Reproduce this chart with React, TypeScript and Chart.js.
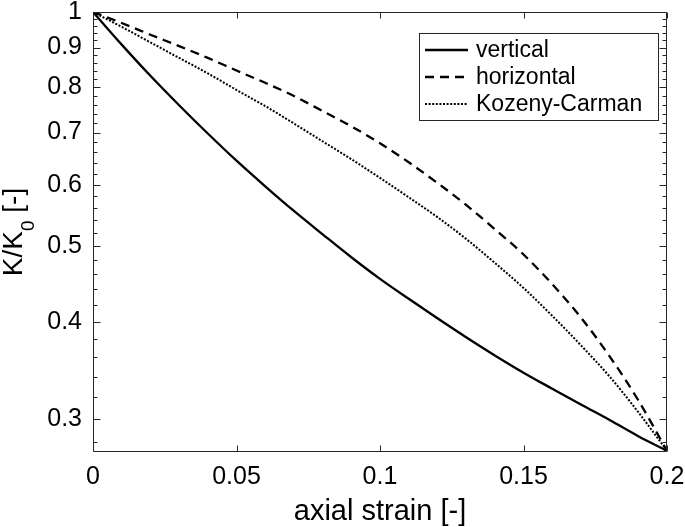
import { useEffect, useRef } from "react";
import { Chart, registerables } from "chart.js";

Chart.register(...registerables);

// ---- data ----
const strain = [0, 0.01, 0.02, 0.03, 0.04, 0.05, 0.06, 0.07, 0.08, 0.09, 0.1, 0.11, 0.12, 0.13, 0.14, 0.15, 0.16, 0.17, 0.18, 0.19, 0.2];
const vertical = [1, 0.908, 0.828, 0.759, 0.698, 0.644, 0.597, 0.555, 0.518, 0.484, 0.454, 0.428, 0.404, 0.382, 0.362, 0.344, 0.328, 0.313, 0.299, 0.285, 0.273];
const horizontal = [1, 0.968, 0.935, 0.904, 0.873, 0.841, 0.811, 0.78, 0.746, 0.713, 0.678, 0.641, 0.603, 0.565, 0.526, 0.488, 0.447, 0.405, 0.361, 0.317, 0.273];
const kozenyCarman = [1, 0.957, 0.914, 0.873, 0.834, 0.794, 0.757, 0.719, 0.682, 0.647, 0.612, 0.578, 0.545, 0.511, 0.476, 0.442, 0.407, 0.373, 0.34, 0.306, 0.273];

const seriesNames = ["vertical", "horizontal", "Kozeny-Carman"];
const xTicks = [0, 0.05, 0.1, 0.15, 0.2];
const yMajorTicks = [0.3, 0.4, 0.5, 0.6, 0.7, 0.8, 0.9, 1];
const yMinorTicks = [0.28, 0.32, 0.34, 0.36, 0.38, 0.42, 0.44, 0.46, 0.48, 0.52, 0.54, 0.56, 0.58, 0.62, 0.64, 0.66, 0.68, 0.72, 0.74, 0.76, 0.78, 0.82, 0.84, 0.86, 0.88, 0.92, 0.94, 0.96, 0.98];
const xMin = 0;
const xMax = 0.2;
const yMin = 0.272;
const yMax = 1;
const xTitle = "axial strain [-]";
const yTitleMain = "K/K";
const yTitleSub = "0";
const yTitleTail = " [-]";

const FONT = "'Liberation Sans', Arial, Helvetica, sans-serif";
const AXIS = "#262626";
const INK = "#000000";

const fmt = (v: number) => String(Number(Number(v).toFixed(3)));

const framePlugin = {
  id: "frame",
  afterDraw(chart: any) {
    const { ctx, chartArea, scales } = chart;
    const { left, right, top, bottom } = chartArea;
    const L = Math.round(left) + 0.5;
    const R = Math.round(right) - 0.5;
    const T = Math.round(top) + 0.5;
    const B = Math.round(bottom) - 0.5;
    ctx.save();
    ctx.strokeStyle = AXIS;
    ctx.lineWidth = 1;
    ctx.beginPath();
    ctx.rect(L, T, R - L, B - T);
    xTicks.forEach((v) => {
      const px = Math.round(scales.x.getPixelForValue(v)) + 0.5;
      ctx.moveTo(px, B);
      ctx.lineTo(px, B - 6);
      ctx.moveTo(px, T);
      ctx.lineTo(px, T + 6);
    });
    const yTick = (v: number, len: number) => {
      const py = Math.round(scales.y.getPixelForValue(v)) + 0.5;
      ctx.moveTo(L, py);
      ctx.lineTo(L + len, py);
      ctx.moveTo(R, py);
      ctx.lineTo(R - len, py);
    };
    yMajorTicks.forEach((v) => yTick(v, 7));
    yMinorTicks.forEach((v) => yTick(v, 4));
    ctx.stroke();
    ctx.restore();
  },
};

const yTitlePlugin = {
  id: "yTitle",
  afterDraw(chart: any) {
    const { ctx, chartArea } = chart;
    const cy = (chartArea.top + chartArea.bottom) / 2;
    const mainFont = `28px ${FONT}`;
    const subFont = `19px ${FONT}`;
    ctx.save();
    ctx.fillStyle = INK;
    ctx.textBaseline = "alphabetic";
    ctx.textAlign = "left";
    ctx.font = mainFont;
    const w1 = ctx.measureText(yTitleMain).width;
    const w3 = ctx.measureText(yTitleTail).width;
    ctx.font = subFont;
    const w2 = ctx.measureText(yTitleSub).width;
    const total = w1 + w2 + w3;
    ctx.translate(22, cy);
    ctx.rotate(-Math.PI / 2);
    const x0 = -total / 2;
    ctx.font = mainFont;
    ctx.fillText(yTitleMain, x0, 0);
    ctx.font = subFont;
    ctx.fillText(yTitleSub, x0 + w1, 12);
    ctx.font = mainFont;
    ctx.fillText(yTitleTail, x0 + w1 + w2, 0);
    ctx.restore();
  },
};

const legendPlugin = {
  id: "boxLegend",
  afterDraw(chart: any) {
    const { ctx } = chart;
    const bx = 419.5;
    const by = 33.5;
    const bw = 239;
    const bh = 87;
    ctx.save();
    ctx.fillStyle = "#ffffff";
    ctx.fillRect(bx, by, bw, bh);
    ctx.strokeStyle = AXIS;
    ctx.lineWidth = 1;
    ctx.strokeRect(bx, by, bw, bh);
    const rows = [50, 77, 104];
    chart.data.datasets.forEach((ds: any, i: number) => {
      const y = rows[i];
      ctx.beginPath();
      ctx.strokeStyle = ds.borderColor;
      ctx.lineWidth = ds.borderWidth;
      ctx.setLineDash(ds.borderDash || []);
      ctx.moveTo(425, y);
      ctx.lineTo(468, y);
      ctx.stroke();
      ctx.setLineDash([]);
      ctx.fillStyle = INK;
      ctx.font = `23px ${FONT}`;
      ctx.textBaseline = "middle";
      ctx.textAlign = "left";
      ctx.fillText(ds.label, 476, y + 1);
    });
    ctx.restore();
  },
};

export default function App() {
  const ref = useRef<HTMLCanvasElement | null>(null);

  useEffect(() => {
    document.body.style.margin = "0";
    if (!ref.current) return;
    const mk = (vals: number[]) => strain.map((x, i) => ({ x, y: vals[i] }));
    const chart = new Chart(ref.current, {
      type: "line",
      data: {
        datasets: [
          {
            label: seriesNames[0],
            data: mk(vertical),
            borderColor: INK,
            borderWidth: 2.3,
            pointRadius: 0,
            cubicInterpolationMode: "monotone",
          },
          {
            label: seriesNames[1],
            data: mk(horizontal),
            borderColor: INK,
            borderWidth: 2.3,
            borderDash: [9, 6],
            pointRadius: 0,
            cubicInterpolationMode: "monotone",
          },
          {
            label: seriesNames[2],
            data: mk(kozenyCarman),
            borderColor: INK,
            borderWidth: 2,
            borderDash: [2, 1.6],
            pointRadius: 0,
            cubicInterpolationMode: "monotone",
          },
        ],
      },
      options: {
        animation: false,
        responsive: true,
        maintainAspectRatio: false,
        layout: { padding: { left: 0, right: 18, top: 12, bottom: 0 } },
        plugins: { legend: { display: false }, tooltip: { enabled: false } },
        scales: {
          x: {
            type: "linear",
            min: xMin,
            max: xMax,
            afterFit(s: any) {
              s.height = 75;
              s.paddingLeft = 0;
              s.paddingRight = 0;
            },
            afterBuildTicks(s: any) {
              s.ticks = xTicks.map((v) => ({ value: v }));
            },
            grid: { display: false, drawTicks: false },
            border: { display: false },
            ticks: {
              autoSkip: false,
              maxRotation: 0,
              padding: 10,
              color: INK,
              font: { family: FONT, size: 25 },
              callback: (v: any) => fmt(v),
            },
            title: {
              display: true,
              text: xTitle,
              color: INK,
              font: { family: FONT, size: 29, lineHeight: 1 },
              padding: { top: 0, bottom: 1 },
            },
          },
          y: {
            type: "logarithmic",
            min: yMin,
            max: yMax,
            afterFit(s: any) {
              s.width = 93;
              s.paddingTop = 0;
              s.paddingBottom = 0;
            },
            afterBuildTicks(s: any) {
              s.ticks = yMajorTicks.map((v) => ({ value: v }));
            },
            grid: { display: false, drawTicks: false },
            border: { display: false },
            ticks: {
              autoSkip: false,
              padding: 11,
              color: INK,
              font: { family: FONT, size: 25 },
              callback: (v: any) => fmt(v),
            },
          },
        },
      },
      plugins: [framePlugin, yTitlePlugin, legendPlugin],
    } as any);
    return () => chart.destroy();
  }, []);

  return (
    <div style={{ width: 685, height: 527, position: "relative" }}>
      <canvas ref={ref} />
    </div>
  );
}
